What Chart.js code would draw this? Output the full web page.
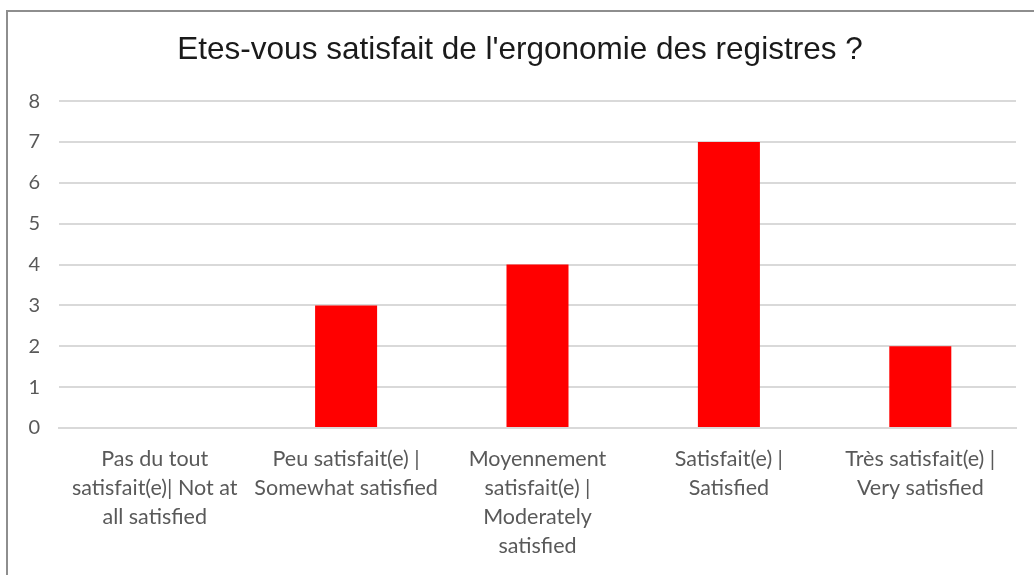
<!DOCTYPE html>
<html>
<head>
<meta charset="utf-8">
<script src="https://cdn.jsdelivr.net/npm/chart.js@4"></script>
<style>
  html, body { margin: 0; padding: 0; background: #fff; overflow: hidden; }
  #frame { position: absolute; left: 6px; top: 10px; width: 1200px; height: 800px;
           border-left: 2px solid #8e8e8e; border-top: 2px solid #8e8e8e; }
  #wrap { position: absolute; left: 0; top: 0; width: 1034px; height: 575px; }
</style>
</head>
<body>
<div id="frame"></div>
<div id="wrap"><canvas id="chart" width="1034" height="575"></canvas></div>
<script>
// categories and counts
const categories = [
  ['Pas du tout', 'satisfait(e)| Not at', 'all satisfied'],
  ['Peu satisfait(e) |', 'Somewhat satisfied'],
  ['Moyennement', 'satisfait(e) |', 'Moderately', 'satisfied'],
  ['Satisfait(e) |', 'Satisfied'],
  ['Très satisfait(e) |', 'Very satisfied']
];
const counts = [0, 3, 4, 7, 2];
const yTicks = [0, 1, 2, 3, 4, 5, 6, 7, 8];

const labelFont = { family: 'Lato, "Open Sans", sans-serif', size: 21.5, lineHeight: 29 / 21.5 };
const gridColor = '#d9d9d9';

const ctx = document.getElementById('chart').getContext('2d');
new Chart(ctx, {
  type: 'bar',
  data: {
    labels: categories,
    datasets: [{
      label: 'Nombre',
      data: counts,
      backgroundColor: '#ff0000',
      borderWidth: 0,
      barPercentage: 0.324,
      categoryPercentage: 1
    }]
  },
  options: {
    responsive: false,
    animation: false,
    // left padding keeps the title centred like the original
    layout: { padding: { left: 24, right: 18, top: 0, bottom: 0 } },
    plugins: {
      legend: { display: false },
      tooltip: { enabled: false },
      title: {
        display: true,
        text: "Etes-vous satisfait de l'ergonomie des registres ?",
        color: '#1a1a1a',
        font: { family: '"Liberation Sans", Arial, sans-serif', size: 31.5, weight: 'normal', lineHeight: 1.1 },
        padding: { top: 33, bottom: 33.5 }
      }
    },
    scales: {
      x: {
        grid: { display: false, drawTicks: false },
        border: { display: true, color: gridColor, width: 2 },
        ticks: {
          color: '#595959',
          font: labelFont,
          padding: 17,
          maxRotation: 0,
          autoSkip: false
        },
        afterFit: (s) => { s.height = 147; }
      },
      y: {
        min: 0,
        max: 8,
        afterBuildTicks: (s) => { s.ticks = yTicks.map(v => ({ value: v })); },
        grid: { color: gridColor, lineWidth: 2, drawTicks: false },
        border: { display: false },
        ticks: {
          color: '#595959',
          font: { family: labelFont.family, size: 20 },
          padding: 19
        },
        afterFit: (s) => { s.width = 35; }
      }
    }
  }
});
</script>
</body>
</html>
